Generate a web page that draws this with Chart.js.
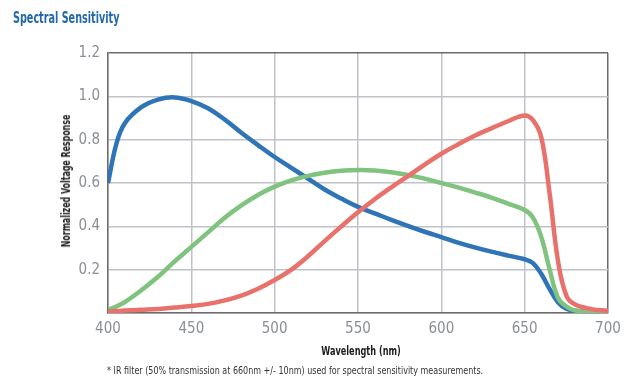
<!DOCTYPE html>
<html>
<head>
<meta charset="utf-8">
<script src="https://cdn.jsdelivr.net/npm/chart.js@4.4.1/dist/chart.umd.min.js"></script>
<style>
  html, body { margin: 0; padding: 0; background: #fff; }
  #wrap { position: relative; width: 640px; height: 392px; overflow: hidden; font-family: "DejaVu Sans Condensed", "Liberation Sans", sans-serif; }
  canvas { position: absolute; left: 0; top: 0; }
  .lbl { position: absolute; white-space: nowrap; }
  #title { left: 13px; top: 8px; font-weight: bold; font-size: 16px; color: #2468a9; transform-origin: 0 0; transform: scaleX(0.67); }
  #note { left: 107px; top: 365px; font-size: 10px; color: #333; transform-origin: 0 0; transform: scaleX(0.89); }
  #xtitle { left: 361px; top: 350px; font-weight: bold; font-size: 13px; color: #1c1c1c; transform: translate(-50%, -50%) scaleX(0.7); }
  #ytitle { left: 66px; top: 181px; font-weight: bold; font-size: 12px; color: #1c1c1c; transform: translate(-50%, -50%) rotate(-90deg) scaleX(0.73); }
</style>
</head>
<body>
<div id="wrap">
  <canvas id="myChart" width="640" height="392"></canvas>
  <div class="lbl" id="title">Spectral Sensitivity</div>
  <div class="lbl" id="ytitle">Normalized Voltage Response</div>
  <div class="lbl" id="xtitle">Wavelength (nm)</div>
  <div class="lbl" id="note">* IR filter (50% transmission at 660nm +/- 10nm) used for spectral sensitivity measurements.</div>
</div>
<script>
"use strict";

// wavelength (nm) for every sample
var wavelengths = [400, 405, 410, 420, 430, 440, 450, 460, 470, 480, 490, 500, 510, 520, 530, 540, 550, 560, 570, 580, 590, 600, 610, 620, 630, 640, 650, 655, 660, 665, 670, 675, 680, 690, 700];

var blue  = [0.60, 0.78, 0.875, 0.95, 0.985, 0.995, 0.978, 0.945, 0.893, 0.832, 0.775, 0.72, 0.67, 0.62, 0.57, 0.528, 0.49, 0.46, 0.43, 0.402, 0.375, 0.35, 0.325, 0.303, 0.283, 0.265, 0.248, 0.23, 0.18, 0.11, 0.05, 0.02, 0.01, 0.004, 0.0];
var green = [0.015, 0.03, 0.05, 0.105, 0.167, 0.238, 0.305, 0.372, 0.44, 0.497, 0.545, 0.583, 0.612, 0.633, 0.647, 0.656, 0.66, 0.658, 0.65, 0.637, 0.62, 0.60, 0.58, 0.557, 0.533, 0.505, 0.475, 0.44, 0.35, 0.20, 0.07, 0.03, 0.012, 0.004, 0.0];
var red   = [0.008, 0.009, 0.011, 0.015, 0.019, 0.025, 0.032, 0.042, 0.058, 0.08, 0.112, 0.152, 0.20, 0.262, 0.332, 0.40, 0.465, 0.525, 0.58, 0.632, 0.685, 0.735, 0.778, 0.818, 0.852, 0.885, 0.912, 0.89, 0.81, 0.55, 0.24, 0.08, 0.04, 0.018, 0.01];

var xTicks = [400, 450, 500, 550, 600, 650, 700];
var yTicks = [0.2, 0.4, 0.6, 0.8, 1.0, 1.2];

function points(values) {
    return wavelengths.map(function (w, i) { return { x: w, y: values[i] }; });
}

var FONT = '"DejaVu Sans Condensed", "Liberation Sans", sans-serif';

function series(values, color) {
    return {
        data: points(values),
        borderColor: color,
        borderWidth: 4.5,
        pointRadius: 0,
        fill: false,
        tension: 0.4
    };
}

var spectralChart = new Chart(document.getElementById('myChart'), {
    type: 'line',
    data: {
        // first dataset is painted on top
        datasets: [
            series(red, '#e8716b'),
            series(green, '#7fc37f'),
            series(blue, '#2e74b7')
        ]
    },
    options: {
        responsive: false,
        animation: false,
        layout: { padding: { left: 50, right: 32, top: 53, bottom: 30 } },
        plugins: { legend: { display: false }, tooltip: { enabled: false } },
        scales: {
            x: {
                type: 'linear',
                min: 400,
                max: 700,
                afterBuildTicks: function (scale) {
                    scale.ticks = xTicks.map(function (v) { return { value: v }; });
                },
                afterFit: function (scale) { scale.height = 49; },
                grid: {
                    color: function (ctx) { return ctx.tick && ctx.tick.value === 700 ? '#6b6b6b' : '#bfc2c6'; },
                    lineWidth: 1.5,
                    drawTicks: false
                },
                border: { color: '#6b6b6b', width: 1.5 },
                ticks: { color: '#8a8f96', padding: 7, font: { family: FONT, size: 15 } }
            },
            y: {
                min: 0,
                max: 1.2,
                afterBuildTicks: function (scale) {
                    scale.ticks = [0].concat(yTicks).map(function (v) { return { value: v }; });
                },
                afterFit: function (scale) { scale.width = 58; },
                grid: {
                    color: function (ctx) { return ctx.tick && Math.abs(ctx.tick.value - 1.2) < 1e-6 ? '#6b6b6b' : '#bfc2c6'; },
                    lineWidth: 1.5,
                    drawTicks: false
                },
                border: { color: '#6b6b6b', width: 1.5 },
                ticks: {
                    color: '#8a8f96',
                    padding: 8,
                    font: { family: FONT, size: 15 },
                    callback: function (v) { return v === 0 ? '' : v.toFixed(1); }
                }
            }
        }
    }
});
</script>
</body>
</html>
